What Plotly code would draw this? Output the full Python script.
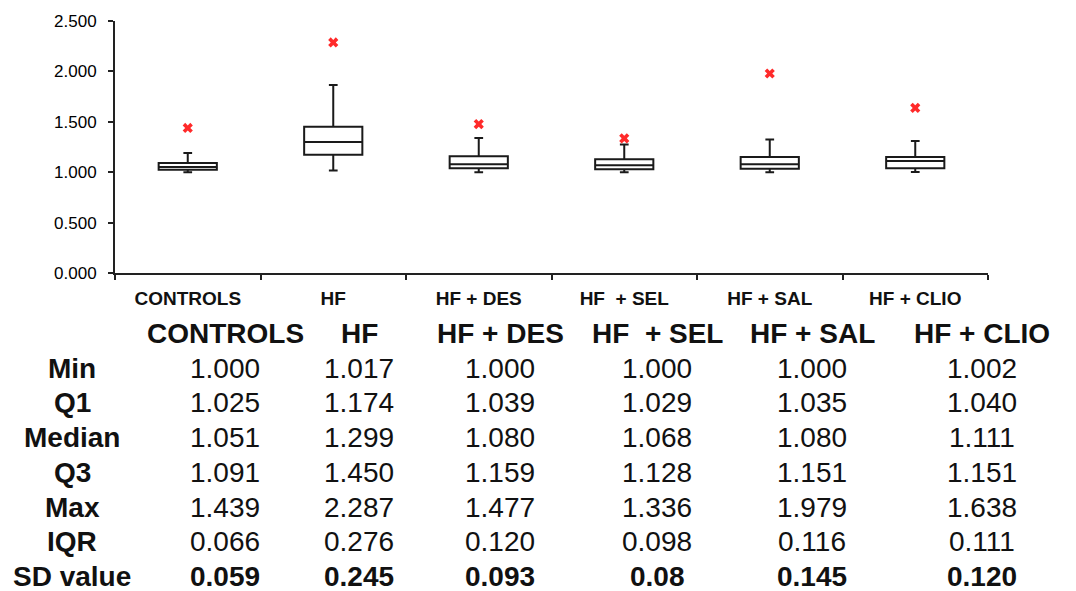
import plotly.graph_objects as go

# Groups and summary statistics
groups = ["CONTROLS", "HF", "HF + DES", "HF\u00a0 + SEL", "HF + SAL", "HF + CLIO"]
min_vals = [1.000, 1.017, 1.000, 1.000, 1.000, 1.002]
q1_vals = [1.025, 1.174, 1.039, 1.029, 1.035, 1.040]
median_vals = [1.051, 1.299, 1.080, 1.068, 1.080, 1.111]
q3_vals = [1.091, 1.450, 1.159, 1.128, 1.151, 1.151]
max_vals = [1.439, 2.287, 1.477, 1.336, 1.979, 1.638]
iqr_vals = [0.066, 0.276, 0.120, 0.098, 0.116, 0.111]
sd_vals = ["0.059", "0.245", "0.093", "0.08", "0.145", "0.120"]
# upper whisker ends (largest non-outlier value)
upper_whisker = [1.19, 1.865, 1.34, 1.275, 1.325, 1.31]

y_ticks = [0, 0.5, 1.0, 1.5, 2.0, 2.5]

FONT = "Liberation Sans, Arial, sans-serif"
INK = "#111111"

fig = go.Figure()

fig.add_trace(go.Box(
    x=groups,
    q1=q1_vals,
    median=median_vals,
    q3=q3_vals,
    lowerfence=min_vals,
    upperfence=upper_whisker,
    boxpoints=False,
    width=0.4,
    whiskerwidth=0.15,
    fillcolor="white",
    line=dict(color="#1a1a1a", width=2),
    showlegend=False,
    hoverinfo="skip",
))

fig.add_trace(go.Scatter(
    x=groups,
    y=max_vals,
    mode="markers",
    marker=dict(symbol="x", size=9, color="#ff2a2a", line=dict(width=0)),
    showlegend=False,
    hoverinfo="skip",
))

# Layout of the plotting area in pixels
W, H = 1076, 591
L, R, T, B = 115, 88, 19, 318
plot_w = W - L - R
plot_h = H - T - B


def px_to_paper_x(px):
    return (px - L) / plot_w


def px_to_paper_y(py):
    return (H - B - py) / plot_h


# Summary table under the chart
row_labels = ["Min", "Q1", "Median", "Q3", "Max", "IQR", "SD value"]
header_labels = ["CONTROLS", "HF", "HF + DES", "HF\u00a0 + SEL", "HF + SAL", "HF + CLIO"]
col_centers = [72, 225, 359, 500, 657, 812, 982]
header_y = 334
row_step = 35

rows = [
    [f"{v:.3f}" for v in min_vals],
    [f"{v:.3f}" for v in q1_vals],
    [f"{v:.3f}" for v in median_vals],
    [f"{v:.3f}" for v in q3_vals],
    [f"{v:.3f}" for v in max_vals],
    [f"{v:.3f}" for v in iqr_vals],
    sd_vals,
]

annotations = []


def add_text(text, cx, cy, bold=False, size=28):
    annotations.append(dict(
        text=f"<b>{text}</b>" if bold else text,
        x=px_to_paper_x(cx), y=px_to_paper_y(cy),
        xref="paper", yref="paper",
        xanchor="center", yanchor="middle",
        showarrow=False,
        font=dict(family=FONT, size=size, color=INK),
    ))


for j, h in enumerate(header_labels):
    add_text(h, col_centers[j + 1], header_y, bold=True)

for i, (lab, vals) in enumerate(zip(row_labels, rows)):
    cy = header_y + row_step * (i + 1)
    add_text(lab, col_centers[0], cy, bold=True)
    last = i == len(rows) - 1
    for j, v in enumerate(vals):
        add_text(v, col_centers[j + 1], cy, bold=last)

fig.update_layout(
    width=W, height=H,
    margin=dict(l=L, r=R, t=T, b=B, pad=0),
    paper_bgcolor="white",
    plot_bgcolor="white",
    annotations=annotations,
    font=dict(family=FONT, color=INK),
)

fig.update_xaxes(
    type="category",
    categoryorder="array",
    categoryarray=groups,
    tickmode="array",
    tickvals=groups,
    ticktext=[f"<b>{g}</b>" for g in groups],
    tickson="boundaries",
    ticks="outside",
    ticklen=5,
    tickwidth=2,
    tickcolor="#222222",
    tickfont=dict(family=FONT, size=19, color=INK),
    ticklabelstandoff=7,
    showline=True,
    linecolor="#222222",
    linewidth=2,
    showgrid=False,
    zeroline=False,
    range=[-0.5, 5.5],
)

fig.update_yaxes(
    range=[0, 2.5],
    tickmode="array",
    tickvals=y_ticks,
    tickformat=".3f",
    ticks="outside",
    ticklen=5,
    tickwidth=2,
    tickcolor="#222222",
    tickfont=dict(family=FONT, size=17, color="#000000"),
    ticklabelstandoff=8,
    showline=True,
    linecolor="#222222",
    linewidth=2,
    showgrid=False,
    zeroline=False,
)

fig.write_html("out.html")
